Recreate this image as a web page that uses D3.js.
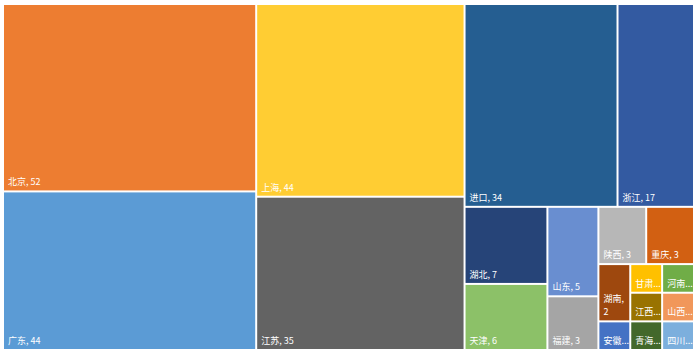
<!DOCTYPE html>
<html>
<head>
<meta charset="utf-8">
<script src="https://cdn.jsdelivr.net/npm/d3@7/dist/d3.min.js"></script>
<style>
  html, body { margin: 0; padding: 0; background: #fff; }
  svg { display: block; }
</style>
</head>
<body>
<svg id="chart" width="700" height="355"></svg>
<script>
// ---- data ----
const categories = ["北京", "广东", "上海", "江苏", "进口", "浙江", "湖北", "天津", "山东", "福建",
                    "陕西", "重庆", "湖南", "安徽", "甘肃", "河南", "江西", "青海", "山西", "四川"];
const values     = [52, 44, 44, 35, 34, 17, 7, 6, 5, 3,
                    3, 3, 2, 1, 1, 1, 1, 1, 1, 1];
const colors     = ["#ED7D31", "#5B9BD5", "#FFCD33", "#636363", "#255E91", "#335AA1", "#264478", "#8CC168", "#698ED0", "#A5A5A5",
                    "#B7B7B7", "#D26012", "#9E480E", "#4472C4", "#FFC000", "#70AD47", "#997300", "#43682B", "#F1975A", "#7CAFDD"];

const W = 700, H = 355;
const margin = {left: 4, top: 5, right: 7, bottom: 6};
const innerW = W - margin.left - margin.right;
const innerH = H - margin.top - margin.bottom;

// Tile in groups of two, each group laid out along the shorter side of the remaining rectangle
function pairTile(parent, x0, y0, x1, y1) {
  const nodes = parent.children;
  let value = parent.value;
  for (let i = 0; i < nodes.length; i += 2) {
    const group = nodes.slice(i, i + 2);
    const sum = d3.sum(group, d => d.value);
    const row = {children: group, value: sum};
    const dx = x1 - x0, dy = y1 - y0;
    const last = i + 2 >= nodes.length;
    if (last) {
      if (dx < dy) d3.treemapSlice(row, x0, y0, x1, y1);
      else d3.treemapDice(row, x0, y0, x1, y1);
    } else if (dx < dy) {
      const yy = y0 + dy * sum / value;
      d3.treemapDice(row, x0, y0, x1, yy);
      y0 = yy;
    } else {
      const xx = x0 + dx * sum / value;
      d3.treemapSlice(row, x0, y0, xx, y1);
      x0 = xx;
    }
    value -= sum;
  }
}

const rootData = {name: "root", children: categories.map((c, i) => ({name: c, value: values[i], color: colors[i]}))};
const root = d3.hierarchy(rootData).sum(d => d.value || 0);

d3.treemap()
  .tile(pairTile)
  .size([innerW, innerH])
  .paddingInner(2)
  .round(false)(root);

const svg = d3.select("#chart");
svg.append("rect").attr("width", W).attr("height", H).attr("fill", "#fff");
const g = svg.append("g").attr("transform", `translate(${margin.left},${margin.top})`);

const cells = g.selectAll("g.cell").data(root.leaves()).join("g")
  .attr("class", "cell")
  .attr("transform", d => `translate(${d.x0},${d.y0})`);

cells.append("rect")
  .attr("width", d => d.x1 - d.x0)
  .attr("height", d => d.y1 - d.y0)
  .attr("fill", d => d.data.color);

const fontSize = 9;
const fontFamily = "'Noto Sans CJK SC', 'Microsoft YaHei', sans-serif";
const measurer = svg.append("text")
  .attr("font-family", fontFamily)
  .attr("font-size", fontSize).attr("visibility", "hidden");
function textW(s) { measurer.text(s); return measurer.node().getComputedTextLength(); }

cells.each(function(d) {
  const w = d.x1 - d.x0, h = d.y1 - d.y0;
  const full = d.data.name + ", " + d.data.value;
  const avail = w - 6;
  let lines;
  if (textW(full) <= avail) lines = [full];
  else if (h >= 40) lines = [d.data.name + ",", String(d.data.value)];
  else lines = [d.data.name + "..."];
  const t = d3.select(this).append("text")
    .attr("font-family", fontFamily)
    .attr("font-size", fontSize)
    .attr("fill", "#fff");
  const lh = 13;
  lines.forEach((ln, k) => {
    t.append("tspan")
      .attr("x", 4)
      .attr("y", h - 5 - (lines.length - 1 - k) * lh)
      .text(ln);
  });
});
measurer.remove();
</script>
</body>
</html>
